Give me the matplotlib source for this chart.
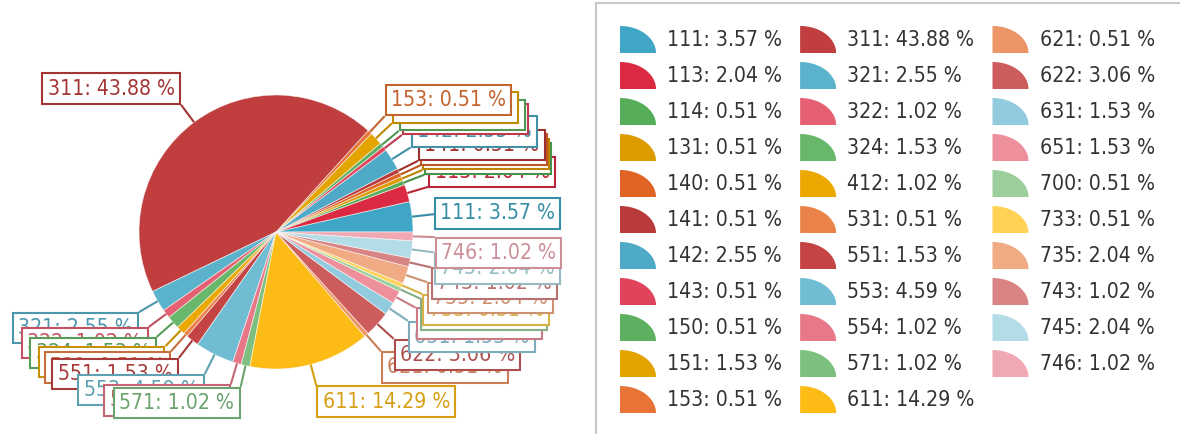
import numpy as np
import matplotlib
matplotlib.use("Agg")
import matplotlib.pyplot as plt
from matplotlib.patches import Polygon, Wedge
from matplotlib.lines import Line2D
from matplotlib.colors import to_rgb
from matplotlib.font_manager import FontProperties

codes = ['111', '113', '114', '131', '140', '141', '142', '143', '150', '151', '153',
         '311', '321', '322', '324', '412', '531', '551', '553', '554', '571', '611',
         '621', '622', '631', '651', '700', '733', '735', '743', '745', '746']
shares = [3.57, 2.04, 0.51, 0.51, 0.51, 0.51, 2.55, 0.51, 0.51, 1.53, 0.51,
          43.88, 2.55, 1.02, 1.53, 1.02, 0.51, 1.53, 4.59, 1.02, 1.02, 14.29,
          0.51, 3.06, 1.53, 1.53, 0.51, 0.51, 2.04, 1.02, 2.04, 1.02]
colors = ['#3fa6c5', '#dc2a42', '#55ad59', '#dc9c00', '#e06424', '#b93a3a',
          '#4eaac6', '#e0445c', '#5db060', '#e3a400', '#e77436',
          '#c03e3e', '#5ab2cb', '#e56072', '#68b76a', '#eba800', '#ea824a',
          '#c44444', '#70bdd3', '#e87888', '#7dc07e', '#fdbb16',
          '#ec9566', '#cd5c5c', '#91cbdd', '#ee909c', '#9dcf9d', '#ffd154',
          '#f0aa84', '#d98484', '#b2dce6', '#f0a8b2']

W, H = 1180, 434
cx, cy, rad = 276, 232, 137      # pie centre / radius in pixels (from top)
fs = 15.2
fs_px = fs * 100 / 72
font = FontProperties(family='DejaVu Sans', stretch='condensed', size=fs)


def darker(c, k=0.85):
    return tuple(v * k for v in to_rgb(c))


fig = plt.figure(figsize=(W / 100, H / 100), dpi=100)
ax = fig.add_axes([0, 0, 1, 1])

wedges, _ = ax.pie(shares, colors=colors, radius=1, startangle=0,
                   wedgeprops=dict(edgecolor=(1, 1, 1, 0.6), linewidth=0.6))
ax.set_xlim(-cx / rad, (W - cx) / rad)
ax.set_ylim(-(H - cy) / rad, cy / rad)
ax.set_aspect('auto')
ax.axis('off')

# labels in boxes with short leader lines
R = 1.16
box_h = 32
pad = 0.25
for i, (w, code, v, c) in enumerate(zip(wedges, codes, shares, colors)):
    th = np.deg2rad((w.theta1 + w.theta2) / 2)
    ct, st = np.cos(th), np.sin(th)
    dk = darker(c)
    z = 3 + i * 0.01
    ax.plot([ct, R * ct], [st, R * st], color=dk, lw=1.5, zorder=z,
            solid_capstyle='butt')
    if st > 0:
        f = np.clip((st - 0.1) / 0.2, 0, 1)
        dy = f * box_h / 2
    else:
        dy = -box_h / 2
    dx = pad * fs_px + 1
    if ct >= 0:
        ha = 'left'
    else:
        ha = 'right'
        dx = -dx
    ax.annotate(f'{code}: {v:.2f} %', xy=(R * ct, R * st), xytext=(dx, dy),
                textcoords='offset pixels', ha=ha, va='center', color=dk,
                fontproperties=font, zorder=z + 0.005,
                bbox=dict(boxstyle=f'square,pad={pad}', fc='white', ec=dk, lw=1.5))


class QuarterHandler:
    def legend_artist(self, legend, orig_handle, fontsize, handlebox):
        x0, y0 = -handlebox.xdescent, -handlebox.ydescent
        w, h = handlebox.width, handlebox.height
        t = np.linspace(0, np.pi / 2, 40)
        pts = [(x0, y0)] + [(x0 + w * np.cos(a), y0 + h * np.sin(a)) for a in t]
        p = Polygon(pts, closed=True, fc=orig_handle.get_facecolor(), ec='none',
                    transform=handlebox.get_transform())
        handlebox.add_artist(p)
        return p


icon_h = 27
hh = (icon_h / fs_px - 0.245) / 0.65
fig.legend(wedges, [f'{c}: {v:.2f} %' for c, v in zip(codes, shares)],
           handler_map={Wedge: QuarterHandler()}, ncol=3, loc='upper left',
           bbox_to_anchor=(620 / W, 1 - 26 / H), frameon=False, borderpad=0,
           borderaxespad=0, handlelength=36 / fs_px, handleheight=hh,
           handletextpad=11 / fs_px, columnspacing=18 / fs_px,
           labelspacing=9 / fs_px, prop=font, labelcolor='#333333')

# legend panel border (top and left only)
fig.add_artist(Line2D([596 / W, 596 / W], [0, 1 - 3 / H], transform=fig.transFigure,
                      color='#c8c8c8', lw=1.5))
fig.add_artist(Line2D([596 / W, 1], [1 - 3 / H, 1 - 3 / H], transform=fig.transFigure,
                      color='#c8c8c8', lw=1.5))

fig.savefig('out.png', dpi=100)
